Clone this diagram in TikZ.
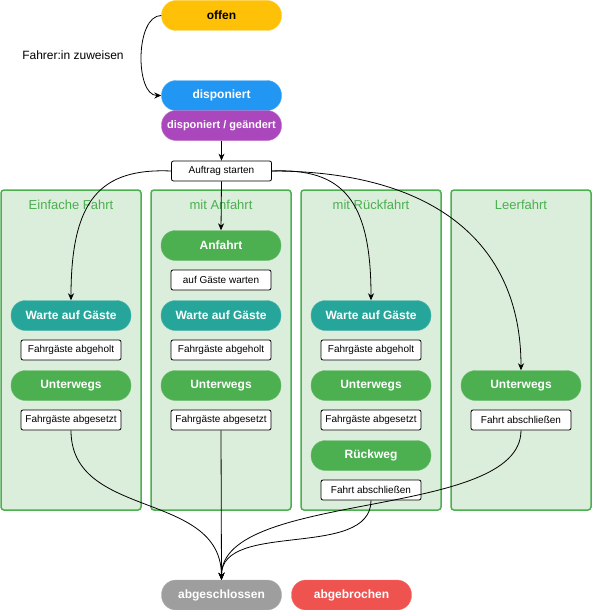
\documentclass[tikz,border=0pt]{standalone}
\usepackage{fontspec}
\setmainfont{Liberation Sans}
\usetikzlibrary{arrows.meta,positioning}
\usepackage{xcolor}
\definecolor{cOffen}{RGB}{255,193,7}
\definecolor{cDisp}{RGB}{33,150,243}
\definecolor{cGeaendert}{RGB}{171,71,188}
\definecolor{cGreen}{RGB}{76,175,80}
\definecolor{cTeal}{RGB}{38,166,154}
\definecolor{cGrey}{RGB}{158,158,158}
\definecolor{cRed}{RGB}{239,83,80}
\definecolor{cLane}{RGB}{219,237,219}

\begin{document}
\begin{tikzpicture}[x=1pt, y=-1pt,
    pill/.style={draw=#1!80!white, fill=#1, rounded corners=14.5pt, minimum width=120pt, minimum height=30pt, inner sep=0pt, text=white, font=\fontsize{12}{14}\selectfont\bfseries},
    actbox/.style={draw, line width=0.8pt, fill=white, rounded corners=2pt, minimum width=100pt, minimum height=20pt, inner sep=0pt, font=\fontsize{10}{12}\selectfont},
    lane/.style={draw=cGreen, line width=1.5pt, fill=cLane, rounded corners=3pt},
    lanetitle/.style={text=cGreen, font=\fontsize{13}{15}\selectfont},
    flow/.style={-{Stealth[length=7pt,width=6pt]}, line width=0.8pt}]
    \useasboundingbox (0,0) rectangle (592,610);

    % Lanes
    \draw[lane] (1,190) rectangle (141,510);
    \draw[lane] (151,190) rectangle (291,510);
    \draw[lane] (301,190) rectangle (441,510);
    \draw[lane] (451,190) rectangle (591,510);
    \node[lanetitle] (t1) at (71,205) {Einfache Fahrt};
    \node[lanetitle] (t2) at (221,205) {mit Anfahrt};
    \node[lanetitle] (t3) at (371,205) {mit Rückfahrt};
    \node[lanetitle] (t4) at (521,205) {Leerfahrt};

    % Status
    \node[pill=cOffen, text=black] (offen) at (221.5,15.5) {offen};
    \node[pill=cDisp] (disp) at (221.5,95.5) {disponiert};
    \node[pill=cGeaendert, font=\fontsize{11}{13}\selectfont\bfseries] (geaend) at (221.5,125.5) {disponiert / geändert};
    \node[actbox] (start) at (221.5,171) {Auftrag starten};
    \node at (73,55) {\fontsize{12}{14}\selectfont Fahrer:in zuweisen};

    % Einfache Fahrt
    \node[pill=cTeal] (wag1) at (71,315.5) {Warte auf Gäste};
    \node[actbox] (abh1) at (71,350) {Fahrgäste abgeholt};
    \node[pill=cGreen] (unt1) at (71,385.5) {Unterwegs};
    \node[actbox] (abs1) at (71,420) {Fahrgäste abgesetzt};

    % mit Anfahrt
    \node[pill=cGreen] (anf2) at (221,245.5) {Anfahrt};
    \node[actbox] (wart2) at (221,280) {auf Gäste warten};
    \node[pill=cTeal] (wag2) at (221,315.5) {Warte auf Gäste};
    \node[actbox] (abh2) at (221,350) {Fahrgäste abgeholt};
    \node[pill=cGreen] (unt2) at (221,385.5) {Unterwegs};
    \node[actbox] (abs2) at (221,420) {Fahrgäste abgesetzt};

    % mit Rueckfahrt
    \node[pill=cTeal] (wag3) at (371,315.5) {Warte auf Gäste};
    \node[actbox] (abh3) at (371,350) {Fahrgäste abgeholt};
    \node[pill=cGreen] (unt3) at (371,385.5) {Unterwegs};
    \node[actbox] (abs3) at (371,420) {Fahrgäste abgesetzt};
    \node[pill=cGreen] (rueck3) at (371,455.5) {Rückweg};
    \node[actbox] (fa3) at (371,490) {Fahrt abschließen};

    % Leerfahrt
    \node[pill=cGreen] (unt4) at (521,385.5) {Unterwegs};
    \node[actbox] (fa4) at (521,420) {Fahrt abschließen};

    % Ende
    \node[pill=cGrey] (fertig) at (221.5,595) {abgeschlossen};
    \node[pill=cRed] (abbruch) at (351.5,595) {abgebrochen};

    % Connectors
    \draw[flow] (offen.west) .. controls (135,15.5) and (135,95.5) .. (disp.west);
    \draw[flow] (geaend.south) -- (start.north);
    \draw[flow] (start.west) .. controls (100,168) and (71,200) .. (wag1.north);
    \draw[flow] (start.south) -- (anf2.north);
    \draw[flow] (start.east) .. controls (343,168) and (371,200) .. (wag3.north);
    \draw[flow] (start.east) .. controls (430,171) and (521,240) .. (unt4.north);
    \draw[flow] (abs1.south) .. controls (71,520) and (221,490) .. (fertig.north);
    \draw[flow] (abs2.south) -- (fertig.north);
    \draw[flow] (fa3.south) .. controls (371,560) and (221,520) .. (fertig.north);
    \draw[flow] (fa4.south) .. controls (521,520) and (221,490) .. (fertig.north);
\end{tikzpicture}
\end{document}
